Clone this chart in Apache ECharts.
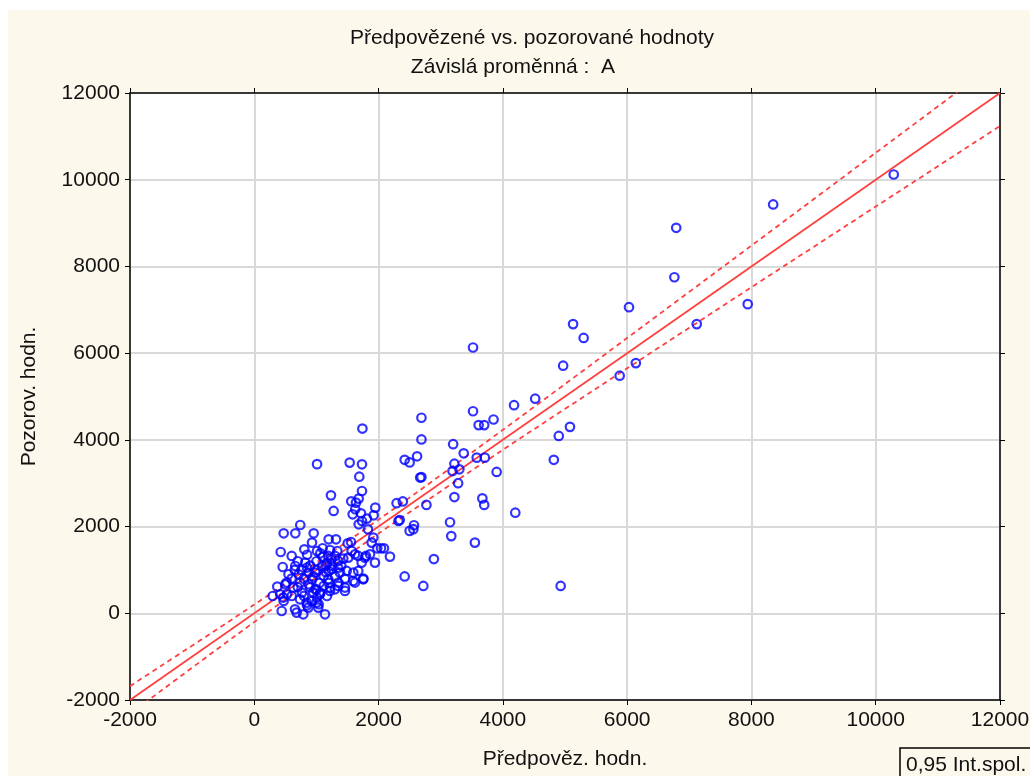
<!DOCTYPE html>
<html>
<head>
<meta charset="utf-8">
<script src="https://cdn.jsdelivr.net/npm/echarts@6/dist/echarts.min.js"></script>
<style>
  html, body { margin: 0; padding: 0; background: #fff; }
  #chart { width: 1030px; height: 776px; }
</style>
</head>
<body>
<div id="chart"></div>
<script>
// [předpovězená, pozorovaná]
const highPoints = [
  [10290, 10120], [8350, 9430], [6790, 8890], [6760, 7750], [7940, 7130], [6030, 7060], [7120, 6670],
  [5130, 6670], [5300, 6350], [3520, 6130], [4970, 5710], [6140, 5770], [5880, 5480], [4520, 4950],
  [4180, 4800], [3520, 4660], [2690, 4510], [2690, 4010], [3610, 4340], [3700, 4340], [3850, 4470],
  [5080, 4300], [4900, 4090], [3200, 3900], [3370, 3690], [4820, 3540]
];
const midPoints = [
  [2420, 3540], [2500, 3480], [2620, 3620], [2670, 3130], [2690, 3140], [3220, 3450], [3190, 3280],
  [3300, 3320], [3580, 3590], [3710, 3590], [3280, 3000], [3900, 3260], [3220, 2680], [3670, 2650],
  [3700, 2500], [2770, 2500], [2390, 2580], [2290, 2540], [2340, 2150], [2320, 2130], [2500, 1900],
  [2560, 1940], [2570, 2030], [3150, 2100], [3170, 1780], [3550, 1630], [4200, 2320], [2890, 1250],
  [2420, 850], [2720, 630], [4930, 630],
  [1740, 4260], [1010, 3440], [1535, 3475], [1733, 3436], [1690, 3150], [1733, 2820], [1234, 2720],
  [1680, 2645], [1560, 2583], [1636, 2553], [1277, 2360], [1625, 2400], [1947, 2437], [1583, 2283],
  [1717, 2306], [1921, 2260], [1813, 2184], [1733, 2128], [1680, 2052], [740, 2036], [473, 1845],
  [660, 1845], [956, 1845], [1829, 1937]
];
const clusterPoints = [
  [1315, 1706], [1197, 1706], [1915, 1746], [1979, 1499], [2039, 1499], [2087, 1499], [2183, 1307],
  [1942, 1169], [1797, 1322], [1889, 1630], [1503, 1614], [1556, 1644], [1218, 1460], [1336, 1437],
  [425, 1414], [602, 1322], [457, 1068], [370, 616], [296, 399], [441, 53], [1138, -23], [789, -23],
  [655, 92], [929, 1630], [805, 1476], [1009, 1437], [1062, 1384], [660, 1091], [821, 1169], [848, 1054],
  [714, 899], [499, 669], [418, 438], [526, 438], [473, 284], [848, 184], [767, 477], [740, 708],
  [875, 669], [929, 784], [982, 553], [1062, 477], [1117, 630], [1009, 362], [929, 284], [1036, 208],
  [1170, 399], [1197, 976], [1170, 1169], [875, 938], [982, 938], [1089, 1091], [1117, 861],
  [1862, 1361], [1781, 1284], [1728, 1169], [1673, 1322], [1567, 1437], [1620, 1361], [1513, 1284],
  [1352, 1206], [1432, 1261], [1298, 1322], [1191, 1322], [1245, 1245], [1245, 1015], [1379, 938],
  [1487, 976], [1593, 938], [1673, 976], [1755, 800], [1459, 800], [1352, 708], [1459, 593], [1593, 745],
  [1191, 784], [1218, 593], [1298, 553], [682, 16], [467, 362], [602, 399], [735, 323], [521, 708],
  [628, 593], [843, 246], [1004, 246], [869, 131], [1030, 131], [1218, 515], [1352, 630], [1459, 515],
  [1620, 708], [1754, 784], [949, 477], [1057, 438],
  [700, 1200], [760, 1000], [900, 1100], [1000, 1200], [1100, 1300], [800, 800], [950, 850], [1050, 700],
  [1150, 950], [700, 600], [600, 800], [1200, 700], [1300, 850], [1400, 1100], [1100, 1500], [850, 1350],
  [1000, 1000], [1150, 1100], [900, 600], [800, 400], [1000, 550], [1250, 1100], [1350, 1050], [650, 1000],
  [550, 900]
];

// regression line and 0.95 band, read at these x values
const bandX = [-2000, 0, 2000, 4000, 6000, 8000, 10000, 12000];
const fitY = [-2000, 0, 2000, 4000, 6000, 8000, 10000, 12000];
const upperY = [-1680, 200, 2160, 4230, 6350, 8480, 10620, 12760];
const lowerY = [-2320, -200, 1840, 3770, 5650, 7520, 9380, 11240];

const FONT = 'Liberation Sans, Arial, sans-serif';
const RED = '#ff4040';
const zip = ys => bandX.map((x, i) => [x, ys[i]]);

const chart = echarts.init(document.getElementById('chart'));
const axisBase = {
  type: 'value', min: -2000, max: 12000, interval: 2000,
  axisLine: { show: true, onZero: false, lineStyle: { color: '#000', width: 1.5 } },
  axisTick: { show: true, inside: false, length: 5, lineStyle: { color: '#000' } },
  axisLabel: { fontFamily: FONT, fontSize: 21, color: '#111', margin: 10, formatter: v => String(v) },
  splitLine: { show: true, lineStyle: { color: '#d9d9d9', width: 2 } }
};
const hiddenAxis = pos => ({
  ...axisBase, position: pos, axisLabel: { show: false }, splitLine: { show: false }
});

chart.setOption({
  backgroundColor: '#fdf8ec',
  animation: false,
  title: [
    { text: 'Předpovězené vs. pozorované hodnoty', left: 527, top: 23, textAlign: 'center',
      textStyle: { fontFamily: FONT, fontSize: 21, fontWeight: 'normal', color: '#111' } },
    { text: 'Závislá proměnná :  A', left: 508, top: 52, textAlign: 'center',
      textStyle: { fontFamily: FONT, fontSize: 21, fontWeight: 'normal', color: '#111' } }
  ],
  grid: { left: 130, right: 30, top: 93, bottom: 76, outerBoundsMode: 'none', containLabel: false,
    show: true, backgroundColor: '#fff', borderColor: '#000', borderWidth: 1 },
  xAxis: [
    { ...axisBase, position: 'bottom', name: 'Předpověz. hodn.', nameLocation: 'middle', nameGap: 49,
      nameTextStyle: { fontFamily: FONT, fontSize: 21, color: '#111' } },
    hiddenAxis('top')
  ],
  yAxis: [
    { ...axisBase, position: 'left', name: 'Pozorov. hodn.', nameLocation: 'middle', nameGap: 90,
      nameTextStyle: { fontFamily: FONT, fontSize: 21, color: '#111' } },
    hiddenAxis('right')
  ],
  graphic: [
    { type: 'rect', shape: { x: 0, y: 0, width: 1030, height: 10 }, style: { fill: '#fff' }, silent: true },
    { type: 'rect', shape: { x: 0, y: 0, width: 8, height: 776 }, style: { fill: '#fff' }, silent: true },
    { type: 'rect', shape: { x: 900, y: 748, width: 140, height: 40 },
      style: { fill: '#fdf8ec', stroke: '#000', lineWidth: 1.5 } },
    { type: 'text', x: 906, y: 765,
      style: { text: '0,95 Int.spol.', fontFamily: FONT, fontSize: 21, fill: '#111', verticalAlign: 'middle' } }
  ],
  series: [
    { type: 'line', data: zip(fitY), showSymbol: false, clip: true, z: 3,
      lineStyle: { color: RED, width: 1.8 } },
    { type: 'line', data: zip(upperY), showSymbol: false, smooth: 0.3, clip: true, z: 3,
      lineStyle: { color: RED, width: 1.8, type: [5, 4] } },
    { type: 'line', data: zip(lowerY), showSymbol: false, smooth: 0.3, clip: true, z: 3,
      lineStyle: { color: RED, width: 1.8, type: [5, 4] } },
    { type: 'scatter', data: [...highPoints, ...midPoints, ...clusterPoints], symbol: 'circle', symbolSize: 8.5, z: 4,
      itemStyle: { color: 'rgba(255,255,255,0)', borderColor: '#0000ff', borderWidth: 2.2 } }
  ]
});
</script>
</body>
</html>
